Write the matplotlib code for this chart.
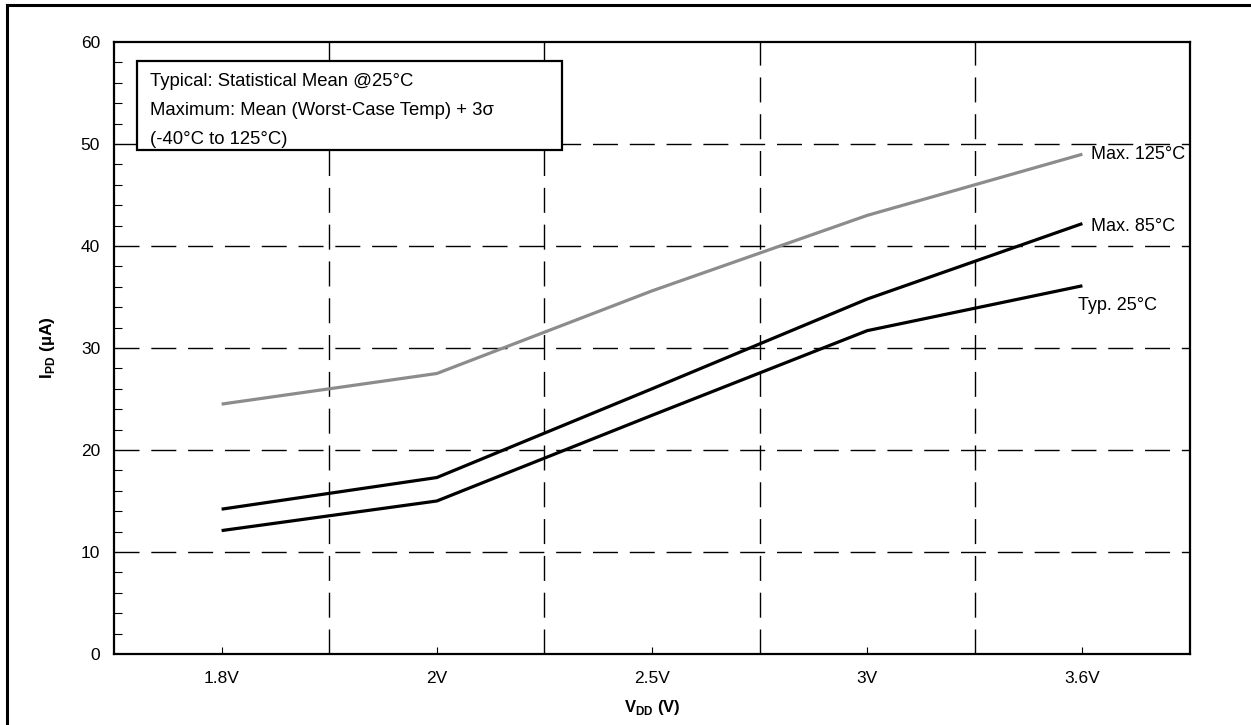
import matplotlib
matplotlib.use("Agg")
import matplotlib.pyplot as plt
from matplotlib.patches import Rectangle
from matplotlib.lines import Line2D
from matplotlib.ticker import MultipleLocator, FixedLocator

plt.rcParams['font.family'] = ['Liberation Sans', 'DejaVu Sans']
plt.rcParams['mathtext.fontset'] = 'custom'
plt.rcParams['mathtext.rm'] = 'Liberation Sans'
plt.rcParams['mathtext.bf'] = 'Liberation Sans:bold'

categories = ["1.8V", "2V", "2.5V", "3V", "3.6V"]
max125 = [24.5, 27.5, 35.6, 43.0, 49.0]
max85 = [14.2, 17.3, 26.0, 34.8, 42.2]
typ25 = [12.1, 15.0, 23.4, 31.7, 36.1]
series_labels = ["Max. 125°C", "Max. 85°C", "Typ. 25°C"]
note_lines = ["Typical: Statistical Mean @25°C",
              "Maximum: Mean (Worst-Case Temp) + 3σ",
              "(-40°C to 125°C)"]

W, H = 1251, 725
fig = plt.figure(figsize=(W / 100, H / 100), dpi=100)
ax = fig.add_axes([114 / W, 1 - 654 / H, (1190 - 114) / W, (654 - 42) / H])

x = [i + 0.5 for i in range(len(categories))]
ax.plot(x, max125, color='#8c8c8c', lw=2.3, solid_capstyle='butt', zorder=3)
ax.plot(x, max85, color='black', lw=2.3, solid_capstyle='butt', zorder=3)
ax.plot(x, typ25, color='black', lw=2.3, solid_capstyle='butt', zorder=3)

ax.set_xlim(0, len(categories))
ax.set_ylim(0, 60)

# gridlines
dash = (0, (18, 8.5))
for yv in range(10, 60, 10):
    ax.axhline(yv, color='black', lw=1.0, linestyle=dash, zorder=1)
for xv in range(1, len(categories)):
    ax.axvline(xv, color='black', lw=1.0, linestyle=dash, zorder=1)

ax.xaxis.set_major_locator(FixedLocator(x))
ax.set_xticklabels(categories, fontsize=12.5)
ax.yaxis.set_major_locator(MultipleLocator(10))
ax.yaxis.set_minor_locator(MultipleLocator(2))
ax.tick_params(axis='x', direction='in', length=5, width=0.8, pad=12)
ax.tick_params(axis='y', which='major', direction='in', length=0, pad=10, labelsize=12.5)
ax.tick_params(axis='y', which='minor', direction='in', length=6, width=0.8)
for s in ax.spines.values():
    s.set_linewidth(1.6)

ax.set_xlabel(r"V$_{\mathbf{DD}}$ (V)", fontsize=12, fontweight='bold', labelpad=9)
ax.set_ylabel(r"I$_{\mathbf{PD}}$ (µA)", fontsize=12.5, fontweight='bold', labelpad=17)

# series labels
fs = 13
ax.text(x[-1] + 0.04, max125[-1], series_labels[0], fontsize=fs, va='center', ha='left')
ax.text(x[-1] + 0.04, max85[-1] - 0.3, series_labels[1], fontsize=fs, va='center', ha='left')
ax.text(x[-1] - 0.02, typ25[-1] - 1.9, series_labels[2], fontsize=fs, va='center', ha='left')

# note box
bx0 = (137 - 114) / 1076
bx1 = (562 - 114) / 1076
by0 = (654 - 150) / 612
by1 = (654 - 61) / 612
ax.add_patch(Rectangle((bx0, by0), bx1 - bx0, by1 - by0, transform=ax.transAxes,
                       facecolor='white', edgecolor='black', lw=1.6, zorder=4))
for i, t in enumerate(note_lines):
    ypix = 82 + i * 28.5
    ax.text((150 - 114) / 1076, (654 - ypix) / 612, t, transform=ax.transAxes,
            fontsize=13.3, va='center', ha='left', zorder=5)

# outer frame (left and top edges)
fig.add_artist(Line2D([7 / W, 7 / W], [0, 1 - 5 / H], color='black', lw=2.2, transform=fig.transFigure))
fig.add_artist(Line2D([7 / W, 1], [1 - 5 / H, 1 - 5 / H], color='black', lw=2.2, transform=fig.transFigure))

fig.savefig("out.png", dpi=100)
